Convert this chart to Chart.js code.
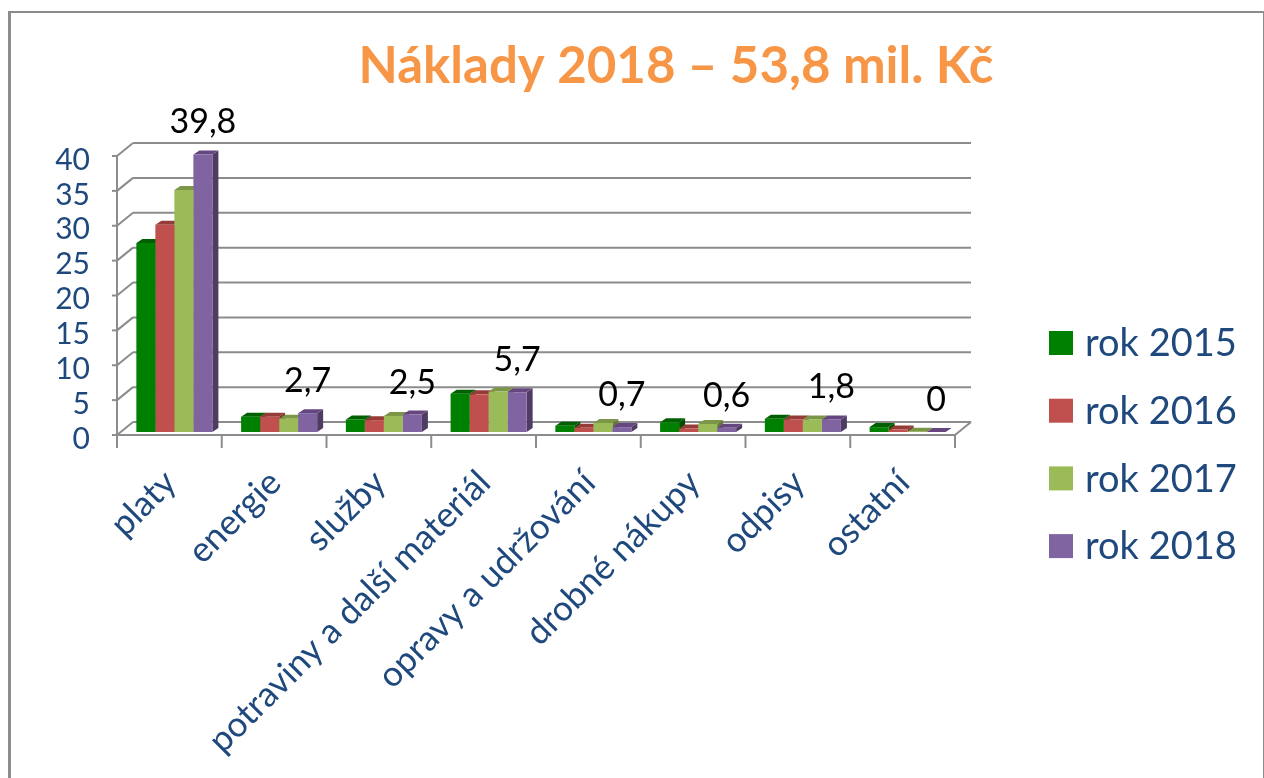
<!DOCTYPE html>
<html>
<head>
<meta charset="utf-8">
<title>Náklady 2018</title>
<script src="https://cdn.jsdelivr.net/npm/chart.js@4"></script>
<style>
  html, body { margin: 0; background: #fff; }
  #wrap { position: relative; width: 1264px; height: 778px; overflow: hidden; }
  #frame { position: absolute; left: 8px; top: 11px; width: 1252px; height: 900px; border: solid #8c8c8c; border-width: 2px 3px 0 3px; }
  canvas { position: absolute; left: 0; top: 0; }
</style>
</head>
<body>
<div id="wrap">
  <div id="frame"></div>
  <canvas id="naklady" width="1264" height="778"></canvas>
</div>
<script>
const categories = ['platy', 'energie', 'služby', 'potraviny a další materiál', 'opravy a udržování', 'drobné nákupy', 'odpisy', 'ostatní'];
const rok2015 = [27.1, 2.2, 1.8, 5.5, 0.9, 1.4, 1.9, 0.7];
const rok2016 = [29.7, 2.2, 1.7, 5.4, 0.6, 0.5, 1.8, 0.35];
const rok2017 = [34.7, 1.9, 2.3, 5.8, 1.3, 1.15, 1.8, 0.05];
const rok2018 = [39.8, 2.7, 2.5, 5.7, 0.7, 0.6, 1.8, 0];
const yTicks = [0, 5, 10, 15, 20, 25, 30, 35, 40];

const font = 'Lato';
const axisColor = '#8c8c8c';
const textBlue = '#1f497d';

// fake 3D: walls and bar faces are offset from the plane the scales use
const front = { dx: -5, dy: 3 };
const back = { dx: 11, dy: -10 };
const depth = { dx: 6, dy: -4 };

const topColors = ['#005f00', '#953c39', '#7c9647', '#65467f'];
const sideColors = ['#004d00', '#7a312f', '#66793a', '#4f3c63'];

const line = (ctx, x1, y1, x2, y2) => {
  ctx.beginPath();
  ctx.moveTo(x1, y1);
  ctx.lineTo(x2, y2);
  ctx.stroke();
};

const face = (ctx, color, pts) => {
  ctx.fillStyle = color;
  ctx.beginPath();
  pts.forEach((p, i) => (i ? ctx.lineTo(p[0], p[1]) : ctx.moveTo(p[0], p[1])));
  ctx.closePath();
  ctx.fill();
};

const walls3d = {
  id: 'walls3d',
  afterLayout(chart) {
    // title is centred over the plot + legend gap, not the canvas
    const t = chart.titleBlock;
    t.left = 88;
    t.right = 1264;
  },
  beforeDatasetsDraw(chart) {
    const { ctx, chartArea, scales } = chart;
    const left = chartArea.left, right = chartArea.right;
    ctx.save();
    ctx.strokeStyle = axisColor;
    ctx.lineWidth = 2;

    yTicks.forEach((v) => {
      const y = scales.y.getPixelForValue(v);
      line(ctx, left + front.dx, y + front.dy, left + back.dx, y + back.dy);
      line(ctx, left + back.dx, y + back.dy, right + back.dx, y + back.dy);
      line(ctx, left + front.dx - 5, y + front.dy, left + front.dx, y + front.dy);
    });

    const y0 = scales.y.getPixelForValue(0);
    const y40 = scales.y.getPixelForValue(40);
    line(ctx, left + front.dx, y40 + front.dy, left + front.dx, y0 + front.dy);
    line(ctx, left + front.dx, y0 + front.dy, right + front.dx, y0 + front.dy);
    line(ctx, right + front.dx, y0 + front.dy, right + back.dx, y0 + back.dy);

    const step = (right - left) / categories.length;
    for (let i = 0; i <= categories.length; i++) {
      const x = left + front.dx + step * i;
      line(ctx, x, y0 + front.dy, x, y0 + front.dy + 13);
    }

    // bar tops and sides, the fronts are the real bars drawn after this
    categories.forEach((c, i) => {
      chart.data.datasets.forEach((ds, d) => {
        const bar = chart.getDatasetMeta(d).data[i];
        const l = bar.x - bar.width / 2;
        const r = bar.x + bar.width / 2;
        face(ctx, sideColors[d], [[r, bar.y], [r + depth.dx, bar.y + depth.dy], [r + depth.dx, bar.base + depth.dy], [r, bar.base]]);
        face(ctx, topColors[d], [[l, bar.y], [l + depth.dx, bar.y + depth.dy], [r + depth.dx, bar.y + depth.dy], [r, bar.y]]);
      });
    });
    ctx.restore();
  },
  afterDatasetsDraw(chart) {
    const { ctx } = chart;
    ctx.save();
    // value labels of the last series
    const last = chart.data.datasets.length - 1;
    ctx.fillStyle = '#000';
    ctx.font = '34px ' + font;
    ctx.textAlign = 'center';
    ctx.textBaseline = 'middle';
    chart.getDatasetMeta(last).data.forEach((bar, i) => {
      ctx.fillText(String(rok2018[i]).replace('.', ','), bar.x, bar.y - 32);
    });

    // legend
    ctx.font = '38px ' + font;
    ctx.textAlign = 'left';
    chart.data.datasets.forEach((ds, d) => {
      const y = 343 + d * 67.7;
      ctx.fillStyle = ds.backgroundColor;
      ctx.fillRect(1049, y - 12, 24, 24);
      ctx.fillStyle = textBlue;
      ctx.fillText(ds.label, 1085, y + 1);
    });
    ctx.restore();
  },
};

new Chart(document.getElementById('naklady'), {
  type: 'bar',
  data: {
    labels: categories,
    datasets: [
      { label: 'rok 2015', data: rok2015, backgroundColor: '#008000' },
      { label: 'rok 2016', data: rok2016, backgroundColor: '#c0504d' },
      { label: 'rok 2017', data: rok2017, backgroundColor: '#9bbb59' },
      { label: 'rok 2018', data: rok2018, backgroundColor: '#8064a2' },
    ],
  },
  options: {
    responsive: false,
    animation: false,
    layout: { padding: { left: 0, right: 304, top: 0, bottom: 0 } },
    datasets: { bar: { categoryPercentage: 0.726, barPercentage: 1 } },
    plugins: {
      legend: { display: false },
      tooltip: { enabled: false },
      title: {
        display: true,
        text: 'Náklady 2018 – 53,8 mil. Kč',
        color: '#f79646',
        font: { family: font, size: 51, weight: 'bold' },
        padding: { top: 35.5, bottom: 56.3 },
      },
    },
    scales: {
      x: {
        grid: { display: false },
        border: { display: false },
        afterFit: (scale) => { scale.height = 346; },
        ticks: {
          color: textBlue,
          font: { family: font, size: 35 },
          minRotation: 45,
          maxRotation: 45,
          autoSkip: false,
          padding: 22,
          labelOffset: -4,
        },
      },
      y: {
        min: 0,
        max: 40,
        grid: { display: false },
        border: { display: false },
        afterFit: (scale) => { scale.width = 122; },
        afterBuildTicks: (scale) => { scale.ticks = yTicks.map((v) => ({ value: v })); },
        ticks: {
          color: textBlue,
          font: { family: font, size: 30 },
          autoSkip: false,
          padding: 24,
          labelOffset: 7,
        },
      },
    },
  },
  plugins: [walls3d],
});
</script>
</body>
</html>
